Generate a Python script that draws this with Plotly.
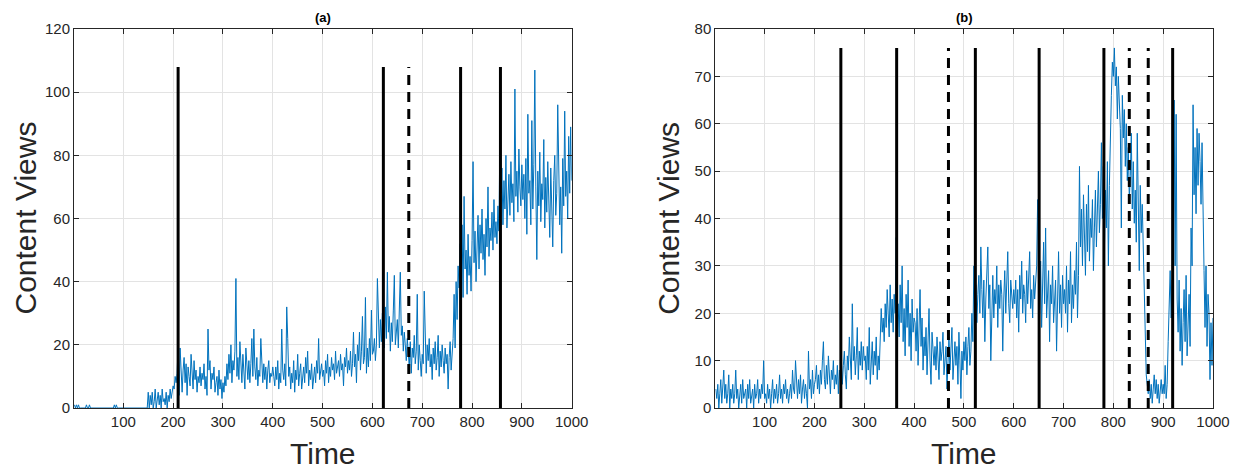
import plotly.graph_objects as go

# ---------------- data (one value every 2 time steps) ----------------
time = list(range(2, 1001, 2))

# panel (a) content views, per block of 100 time steps
a_000 = [1,0,1,0,1,0,0,0,0,0, 0,0,1,0,0,1,0,0,0,0, 0,0,0,0,0,0,0,0,0,0, 0,0,0,0,0,0,0,0,0,0, 1,0,1,0,0,0,0,0,0,0]
a_100 = [0,0,0,0,0,0,0,0,0,0, 0,0,0,0,0,0,0,0,0,0, 0,0,0,0,5,0,4,1,5,0, 2,6,0,3,5,1,4,0,6,2, 3,1,5,0,4,2,6,3,5,7]
a_200 = [6,10,8,11,20,4,19,9,5,12, 16,8,14,4,13,10,7,17,11,6, 15,9,12,5,10,8,13,7,11,9, 14,6,10,4,25,12,15,6,11,9, 13,5,8,10,4,12,6,9,3,8]
a_300 = [5,10,7,14,9,17,11,20,8,15, 12,18,41,10,16,9,21,13,8,17, 11,6,19,12,9,15,8,14,22,10, 25,13,9,16,7,12,10,22,11,8, 14,9,13,6,12,15,8,11,10,13]
a_400 = [10,7,13,9,15,6,11,8,25,12, 9,14,7,32,22,10,13,6,11,8, 15,5,12,9,17,7,11,14,6,10, 13,8,16,11,18,7,12,9,14,6, 10,13,8,15,11,22,9,12,14,10]
a_500 = [12,7,15,11,17,8,13,10,16,12, 14,9,18,11,13,15,10,17,12,14, 7,16,13,19,11,15,12,18,10,14, 24,13,17,8,20,15,24,12,18,29, 14,16,35,11,19,13,22,15,31,17]
a_600 = [18,22,15,20,41,24,19,28,21,30, 26,19,32,22,43,24,29,18,27,21, 31,42,20,25,28,19,33,43,23,26, 18,24,20,15,22,17,13,21,11,19, 16,23,14,18,36,12,20,15,10,17]
a_700 = [14,37,18,11,20,15,22,13,17,9, 19,14,21,12,16,23,10,18,13,20, 15,11,19,14,17,6,16,21,12,18, 22,36,19,40,28,45,38,52,41,58, 35,67,44,50,36,55,42,48,37,53]
a_800 = [78,46,56,40,52,61,44,58,49,63, 47,55,42,60,51,70,48,57,53,62, 50,66,54,59,52,64,56,88,68,76, 58,72,63,80,57,69,74,61,78,65, 71,59,101,67,75,62,82,70,64,77]
a_900 = [66,74,60,79,55,93,68,72,58,91, 63,77,107,70,47,75,64,81,59,71, 66,85,57,73,62,78,69,54,76,65, 51,72,80,61,68,96,74,58,70,49, 79,64,94,67,75,60,86,68,89,72]

# panel (b) content views
b_000 = [4,2,5,0,3,6,1,4,8,2, 5,1,3,7,0,4,2,5,1,3, 8,2,4,0,3,5,1,6,2,3, 4,0,5,2,6,1,3,4,0,5, 2,3,6,1,4,2,5,3,10,2]
b_100 = [3,1,5,2,4,0,3,6,1,4, 2,5,1,3,7,2,4,1,5,3, 6,2,4,1,3,5,2,8,4,3, 10,5,2,6,3,7,1,4,6,2, 5,3,0,12,4,6,2,8,3,5]
b_200 = [6,9,4,7,3,8,5,10,14,6, 4,9,5,11,7,3,8,6,10,4, 7,5,9,3,8,6,10,5,9,12, 7,4,11,8,15,9,6,22,10,13, 7,11,17,6,12,9,14,8,13,10]
b_300 = [11,6,13,8,17,5,10,14,7,12, 9,15,6,11,8,13,21,16,19,14, 22,17,25,20,15,26,18,23,16,24, 20,36,19,22,15,26,18,30,14,21, 11,24,17,27,13,20,10,23,16,19]
b_400 = [18,12,21,9,16,25,13,19,8,15, 11,17,7,14,21,10,5,16,12,9, 13,8,15,11,6,14,10,12,16,7, 11,13,4,10,15,8,12,17,6,11, 14,9,13,5,16,10,2,12,8,14]
b_500 = [10,15,7,13,17,9,12,20,14,30, 22,26,18,24,28,20,34,25,19,27, 14,23,29,34,21,26,10,24,28,19, 25,22,30,17,26,21,27,24,12,23, 29,20,26,33,22,18,27,24,21,25]
b_600 = [22,27,19,25,16,28,23,31,20,26, 24,18,29,22,27,33,21,25,19,28, 23,26,30,44,24,20,31,17,27,35, 22,38,19,25,29,14,26,22,30,18, 24,27,12,23,33,20,26,17,28,22]
b_700 = [25,20,30,16,27,22,33,18,26,21, 29,24,35,19,28,51,34,42,30,45, 37,28,43,33,47,31,40,36,44,29, 38,46,34,41,50,37,43,56,40,51, 33,46,38,52,30,47,59,66,73,70]
b_800 = [76,68,72,61,70,64,59,38,66,57, 63,51,60,48,55,44,49,58,42,52, 39,46,35,58,41,29,47,37,43,33, 30,18,7,5,3,6,2,5,1,4, 7,3,6,2,5,1,4,6,3,5]
b_900 = [3,9,2,5,14,22,29,19,27,24, 65,30,62,23,16,27,12,21,9,18, 25,14,28,11,19,24,13,38,30,64, 45,55,41,59,47,58,52,43,56,38, 29,17,30,13,24,20,6,18,9,19]

views_a = a_000 + a_100 + a_200 + a_300 + a_400 + a_500 + a_600 + a_700 + a_800 + a_900
views_b = b_000 + b_100 + b_200 + b_300 + b_400 + b_500 + b_600 + b_700 + b_800 + b_900

# change points (time) and marker-line heights
solid_a = [210, 622, 777, 857]
dashed_a = [673]
height_a = 108
solid_b = [253, 365, 523, 651, 781, 919]
dashed_b = [469, 832, 870]
height_b = 76

x_ticks = [100, 200, 300, 400, 500, 600, 700, 800, 900, 1000]
y_ticks_a = [0, 20, 40, 60, 80, 100, 120]
y_ticks_b = [0, 10, 20, 30, 40, 50, 60, 70, 80]

# ---------------- figure ----------------
BLUE = "#0072BD"
AX = "#262626"
GRID = "#e3e3e3"
FONT = "Liberation Sans"

fig = go.Figure()


def add_vlines(xs, h, dash, xa, ya):
    for x in xs:
        fig.add_trace(go.Scatter(x=[x, x], y=[0, h], mode="lines",
                                 line=dict(color="black", width=3, dash=dash),
                                 xaxis=xa, yaxis=ya, showlegend=False, hoverinfo="skip"))


fig.add_trace(go.Scatter(x=time, y=views_a, mode="lines", line=dict(color=BLUE, width=1),
                         xaxis="x", yaxis="y", showlegend=False))
add_vlines(solid_a, height_a, "solid", "x", "y")
add_vlines(dashed_a, height_a, "10px,7px", "x", "y")

fig.add_trace(go.Scatter(x=time, y=views_b, mode="lines", line=dict(color=BLUE, width=1),
                         xaxis="x2", yaxis="y2", showlegend=False))
add_vlines(solid_b, height_b, "solid", "x2", "y2")
add_vlines(dashed_b, height_b, "10px,7px", "x2", "y2")

# the page places the figure 8px from the top-left corner of the window
OFF = 8
W, H = 1242 - OFF, 472 - OFF
L, R, T, B = 74 - OFF, 26, 27 - OFF, 64
pw = W - L - R
dom_a = [0, (573 - 74) / pw]
dom_b = [(717 - 74) / pw, 1]

xcommon = dict(range=[1, 1000], tickvals=x_ticks, ticks="inside", ticklen=5, tickcolor=AX,
               showline=True, linecolor=AX, linewidth=1, mirror="ticks",
               showgrid=True, gridcolor=GRID, gridwidth=1, zeroline=False,
               tickfont=dict(family=FONT, size=15, color=AX))
ycommon = dict(ticks="inside", ticklen=5, tickcolor=AX,
               showline=True, linecolor=AX, linewidth=1, mirror="ticks",
               showgrid=True, gridcolor=GRID, gridwidth=1, zeroline=False,
               tickfont=dict(family=FONT, size=15, color=AX))

fig.update_layout(
    width=W, height=H,
    margin=dict(l=L, r=R, t=T, b=B),
    paper_bgcolor="white", plot_bgcolor="white",
    font=dict(family=FONT, color=AX),
    xaxis=dict(domain=dom_a, anchor="y", **xcommon),
    yaxis=dict(domain=[0, 1], anchor="x", range=[0, 120], tickvals=y_ticks_a, **ycommon),
    xaxis2=dict(domain=dom_b, anchor="y2", **xcommon),
    yaxis2=dict(domain=[0, 1], anchor="x2", range=[0, 80], tickvals=y_ticks_b, **ycommon),
)

# titles and axis labels
for dom, lab in [(dom_a, "(a)"), (dom_b, "(b)")]:
    cx = (dom[0] + dom[1]) / 2
    fig.add_annotation(x=cx, y=1, xref="paper", yref="paper", xanchor="center", yanchor="bottom",
                       yshift=2, showarrow=False,
                       text="<b>%s</b>" % lab, font=dict(family=FONT, size=13, color="black"))
    fig.add_annotation(x=cx, y=0, xref="paper", yref="paper", xanchor="center", yanchor="top",
                       yshift=-27, showarrow=False,
                       text="Time", font=dict(family=FONT, size=30, color=AX))

fig.add_annotation(x=dom_a[0], y=0.5, xref="paper", yref="paper", xanchor="center", yanchor="middle",
                   xshift=-49, showarrow=False, borderpad=0,
                   text="Content Views", textangle=-90, font=dict(family=FONT, size=30, color=AX))
fig.add_annotation(x=dom_b[0], y=0.5, xref="paper", yref="paper", xanchor="center", yanchor="middle",
                   xshift=-47, showarrow=False, borderpad=0,
                   text="Content Views", textangle=-90, font=dict(family=FONT, size=30, color=AX))

fig.write_html("out.html")
